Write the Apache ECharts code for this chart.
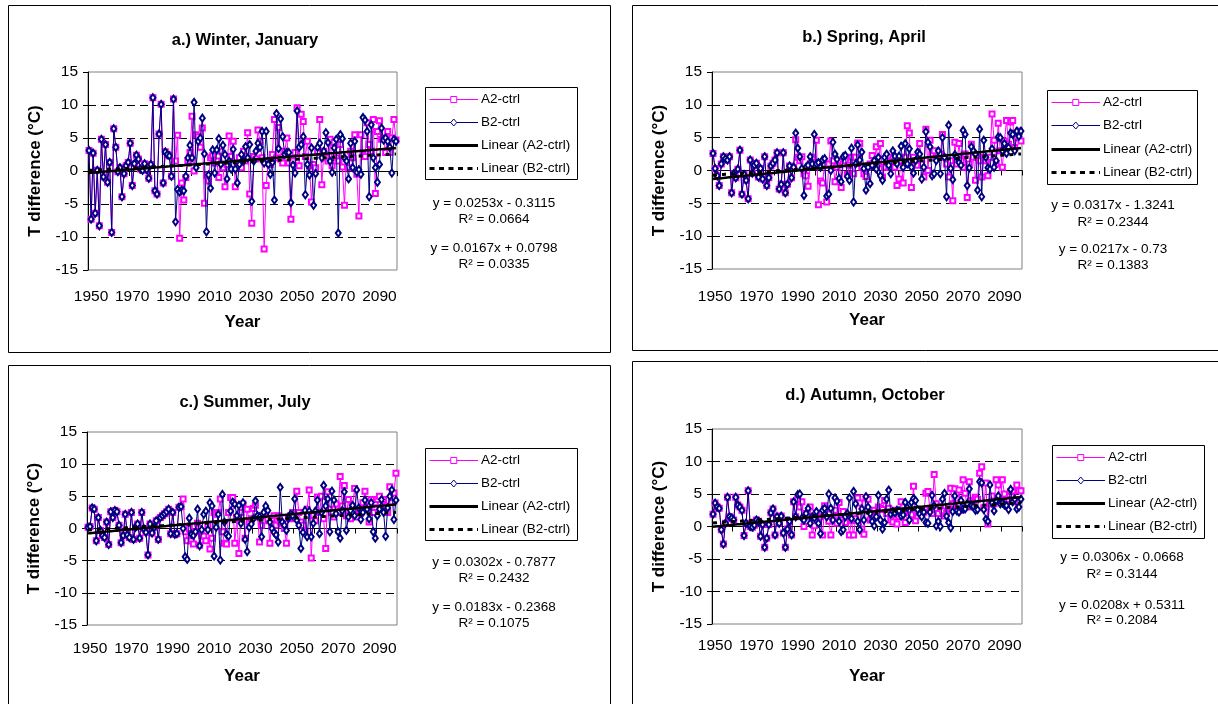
<!DOCTYPE html>
<html><head><meta charset="utf-8">
<script src="https://cdn.jsdelivr.net/npm/echarts@6/dist/echarts.min.js"></script>
<style>html,body{margin:0;padding:0;background:#fff}#c{width:1218px;height:704px}</style>
</head><body><div id="c"></div>
<script>
// Categories: years 1950..2099
const years = Array.from({length:150},(_,i)=>String(1950+i));
const yTickValues = [-15,-10,-5,0,5,10,15];
const seriesNames = ['A2-ctrl','B2-ctrl','Linear (A2-ctrl)','Linear (B2-ctrl)'];

// a.) Winter, January
const winterShared = [3.1,-7.3,2.7,-6.4,0.1,-8.3,4.8,-0.9,4.0,-1.7,
 1.3,-9.3,6.4,3.6,-0.1,0.5,-3.9,-0.4,0.8,1.3,
 4.2,-2.2,1.1,2.4,1.8,0.3,0.1,1.1,0.2,-1.1,
 1.0,11.1,-3.0,-3.5,5.6,10.1,-1.8,2.9,2.5,2.3,
 -0.8,10.9];
const winterB2 = [-7.7,-2.8,-3.2,-2.9,-3.0,-0.8,2.0,3.9,
 2.0,10.4,0.5,4.5,5.0,8.0,2.6,-9.2,-0.6,-2.6,
 3.2,-0.3,3.2,4.9,1.0,3.9,2.5,-1.2,1.5,0.3,
 3.3,0.3,-1.8,1.0,2.5,1.5,3.7,2.0,4.0,-4.6,
 1.5,3.0,4.2,3.6,6.0,1.2,6.0,1.0,-0.5,1.3,
 -4.4,8.7,3.4,7.9,5.2,2.5,2.8,2.8,-4.8,0.9,
 -0.3,9.1,3.6,4.0,5.2,-3.6,1.0,-0.6,3.5,-5.2,
 -0.4,3.6,4.2,2.0,3.0,5.8,4.3,1.5,-0.2,3.5,
 4.8,-9.4,5.5,4.9,2.0,1.5,-1.2,4.2,0.5,4.5,
 -0.2,0.2,-0.5,8.1,7.7,6.0,-3.9,7.0,2.0,0.5,
 -1.7,1.0,6.5,4.7,5.0,4.5,3.6,-0.3,4.8,4.5];
const winterA2 = [1.5,5.4,-10.2,-1.8,-4.4,-1.0,1.5,2.8,
 8.3,0.0,5.5,5.2,3.6,6.5,-4.9,-0.6,-1.5,2.0,
 2.3,1.2,1.5,-1.0,3.0,0.5,-2.4,1.0,5.3,2.2,
 4.5,-2.4,1.2,2.0,0.5,3.0,1.5,5.8,-3.5,-7.9,
 2.2,1.8,6.2,4.5,2.0,-11.8,-2.2,1.5,1.0,2.5,
 7.8,2.0,6.6,1.8,1.2,3.0,5.0,1.2,-7.3,1.5,
 2.8,9.6,0.8,8.6,7.5,2.2,4.5,0.8,-4.7,1.0,
 0.5,2.8,7.8,-2.1,3.0,2.0,1.5,4.8,0.8,4.3,
 2.0,1.5,4.0,0.6,-5.2,2.5,0.5,3.0,2.0,5.5,
 -0.5,-6.8,5.5,2.5,2.2,7.3,4.0,3.0,7.8,-3.4,
 6.0,7.6,4.8,5.0,2.8,6.0,2.8,5.0,7.8,4.7];

// b.) Spring, April
const springShared = [2.6,0.3,-0.8,-2.3,1.0,2.1,1.8,1.6,2.1,-3.4,
 -0.5,-1.1,0.2,3.1,-3.6,-0.6,-1.5,-4.3,1.6,-0.4,
 0.8,1.1,-1.0,0.3,-1.3,2.1,-2.3,-1.1,0.7,1.1,
 1.6,2.7,-2.8,-2.1,2.7,-3.4,-2.1,0.7,-1.1,0.5];
const springB2 = [5.7,3.4,2.1,0.3,-3.8,0.5,0.8,2.1,1.0,5.5,
 1.0,1.2,0.5,1.6,1.8,-3.9,-3.6,0.0,4.3,2.5,
 1.7,-1.2,-1.7,2.1,2.3,-0.9,-1.5,3.4,-4.8,1.0,
 3.9,1.6,2.8,0.3,-3.0,0.5,-2.0,0.8,1.5,0.2,
 2.0,-0.8,-1.5,2.0,2.5,0.8,-0.5,3.0,2.2,1.0,
 2.2,3.7,0.5,4.1,1.0,3.3,0.5,-0.4,1.5,2.8,
 2.5,-1.3,0.5,5.9,4.3,3.6,-0.8,-0.5,1.5,3.0,
 -0.5,5.0,2.0,-4.0,6.9,0.3,-1.4,2.4,2.0,1.2,
 0.8,6.1,5.5,-2.3,0.4,3.6,3.0,2.5,-3.0,6.3,
 -4.0,4.6,2.0,0.4,0.2,3.3,0.5,1.5,5.1,5.0,
 3.0,4.1,2.6,3.5,5.7,5.5,3.0,6.0,5.2,6.0];
const springA2 = [4.7,2.0,1.5,2.1,-0.5,-0.8,-2.4,1.0,2.0,0.8,
 4.6,-5.2,-1.6,-1.9,1.0,-4.8,1.0,4.5,1.5,-1.7,
 0.5,1.5,-2.6,1.0,1.5,-0.6,0.8,2.0,-0.5,2.0,
 4.2,4.1,0.5,-0.5,-0.9,0.5,1.0,2.3,0.8,3.6,
 1.0,4.1,-1.0,0.5,1.5,0.5,1.0,2.0,0.5,-2.3,
 -1.3,1.5,-1.9,2.0,6.8,5.7,-2.6,2.0,1.5,0.8,
 4.1,1.0,-1.0,6.3,0.0,4.6,2.5,3.0,2.0,2.0,
 2.5,5.5,2.0,1.0,-1.0,1.5,-4.6,4.3,1.0,4.1,
 1.5,0.5,2.5,-4.1,1.0,4.0,2.0,-1.5,2.0,1.5,
 -1.0,2.0,1.5,-0.8,2.0,8.6,4.6,1.0,7.2,3.0,
 0.5,4.5,7.6,4.0,7.4,7.6,3.5,5.0,6.0,4.5];

// c.) Summer, July
const summerShared = [0.2,0.3,3.2,3.0,-1.9,1.7,-0.3,-1.1,-1.4,1.0,
 -2.5,2.6,1.7,2.8,2.6,0.5,-2.2,-1.1,2.2,-1.0,
 -1.4,2.5,-1.7,0.2,0.7,-1.5,2.5,0.0,-0.6,-4.1,
 0.7,-0.7,0.2,1.2,-1.7,1.7,2.0,2.3,2.6,3.0,
 -0.8,2.5,-0.9,-0.8,3.3,3.4];
const summerB2 = [0.0,-4.4,-4.8,1.6,
 -0.9,-1.1,-0.5,3.0,-2.7,-0.2,2.2,2.7,-0.2,4.0,
 3.5,-4.3,0.2,2.2,-4.9,5.3,1.0,-0.9,-1.2,2.7,
 4.1,3.8,2.0,3.6,0.8,4.0,-1.7,-3.6,0.2,0.7,
 1.5,4.3,2.0,1.8,-1.3,2.5,3.5,2.8,1.0,0.0,
 -0.6,-1.0,-2.1,6.4,1.0,0.5,-0.3,1.6,2.2,2.0,
 4.6,1.3,0.5,-3.1,-0.6,2.8,-1.3,2.7,-1.3,0.8,
 2.7,4.4,-0.8,2.5,6.7,3.5,4.6,-0.5,5.8,4.4,
 2.3,-0.5,-1.5,2.8,5.7,-0.3,1.8,2.8,3.6,2.0,
 6.0,3.2,1.4,2.5,4.4,3.0,1.5,4.0,-0.5,-1.5,
 2.0,3.0,4.5,2.5,-1.2,3.2,5.0,6.0,1.4,4.4];
const summerA2 = [4.6,-0.5,-1.9,0.0,
 -1.9,-2.4,-0.5,0.8,-2.6,-1.0,-1.2,-1.9,0.5,-3.2,
 -1.5,2.5,2.2,2.5,4.6,-0.5,-2.3,-2.4,2.5,4.8,
 4.8,-2.3,1.5,-3.9,2.5,3.8,-1.5,3.0,1.0,1.5,
 3.1,3.6,1.8,-2.1,0.5,1.2,2.5,1.5,-2.3,1.5,
 2.0,0.5,2.0,1.0,0.8,0.0,-2.3,1.5,2.0,2.5,
 1.5,5.8,2.5,1.0,0.5,-0.5,3.0,6.0,-4.6,2.0,
 1.2,4.9,2.5,5.0,1.5,-3.1,5.7,3.0,2.5,1.8,
 3.8,2.5,8.1,3.5,6.7,2.0,4.5,1.5,3.5,6.2,
 1.8,3.0,2.5,4.0,5.8,4.2,1.0,4.5,2.5,4.0,
 4.5,5.0,3.0,4.5,3.5,2.5,6.5,4.0,5.5,8.6];

// d.) Autumn, October
const autumnShared = [1.9,3.6,3.0,2.8,-0.5,-2.7,0.5,4.5,1.5,1.3,
 1.0,4.5,3.3,3.0,2.5,-1.4,0.5,5.5,0.0,-0.1,
 0.2,1.0,0.8,-1.5,0.3,-3.2,-1.8,0.3,2.1,2.7,
 -1.3,1.5,0.5,1.6,-1.0,-3.2,-0.4,0.8,-1.3,3.8,
 1.5];
const autumnB2 = [4.9,5.0,1.3,1.0,2.0,2.8,0.5,1.5,1.3,
 2.3,0.5,-1.1,2.5,2.8,1.5,5.0,2.8,1.0,4.4,
 3.9,0.8,-0.8,-0.5,1.5,2.0,4.4,1.2,5.4,3.5,
 0.8,-0.5,2.7,1.0,4.6,3.0,2.0,0.8,0.1,1.5,
 4.8,1.0,-0.4,0.6,4.2,5.6,1.9,2.3,2.1,2.5,
 2.4,1.6,1.8,3.7,2.9,1.0,3.7,4.3,4.0,2.6,
 1.9,1.5,2.2,0.6,0.5,2.2,4.8,3.2,0.1,0.8,
 0.0,4.2,5.1,1.6,0.6,-0.2,2.3,4.7,2.4,2.2,
 4.0,2.7,2.7,3.5,5.8,3.2,3.1,2.5,2.6,6.9,
 6.7,2.6,1.1,0.8,6.4,3.6,2.4,4.0,4.7,3.5,
 3.6,3.3,3.2,2.6,5.7,3.8,4.2,2.7,3.0,4.2];
const autumnA2 = [4.2,3.0,3.8,0.0,2.0,1.5,3.0,-1.3,0.1,
 2.0,1.0,1.5,-1.3,3.2,2.7,0.8,-1.3,1.0,2.5,
 0.5,3.7,1.0,2.3,0.6,1.5,-1.3,0.9,-1.3,1.2,
 4.4,3.6,-0.4,-1.2,4.4,4.2,1.0,1.3,2.5,1.5,
 3.0,2.8,2.6,4.0,2.0,2.8,1.0,0.7,2.5,0.4,
 1.5,3.8,2.0,0.6,2.1,2.4,1.8,6.2,0.9,1.6,
 2.1,2.0,2.2,5.1,5.4,2.5,2.0,8.0,3.5,2.0,
 3.0,2.4,1.6,2.0,3.0,5.9,3.5,5.8,2.5,5.6,
 2.5,7.2,5.1,3.0,6.9,4.0,3.8,4.5,4.2,8.2,
 9.2,2.9,6.7,0.4,3.5,4.7,3.5,7.2,6.4,4.0,
 7.2,5.0,4.0,4.2,5.4,5.5,3.8,6.4,5.5,5.5];

// Trendline coefficients printed on the chart [slope, intercept]
const trendCoefA = [[0.0253,-0.3115],[0.0317,-1.3241],[0.0302,-0.7877],[0.0306,-0.0668]];
const trendCoefB = [[0.0167,0.0798],[0.0217,-0.73],[0.0183,-0.2368],[0.0208,0.5311]];
const panelTitles = ['a.) Winter, January','b.) Spring, April','c.) Summer, July','d.) Autumn, October'];
const eqTexts = [
 ['y = 0.0253x - 0.3115','R\u00b2 = 0.0664','y = 0.0167x + 0.0798','R\u00b2 = 0.0335'],
 ['y = 0.0317x - 1.3241','R\u00b2 = 0.2344','y = 0.0217x - 0.73','R\u00b2 = 0.1383'],
 ['y = 0.0302x - 0.7877','R\u00b2 = 0.2432','y = 0.0183x - 0.2368','R\u00b2 = 0.1075'],
 ['y = 0.0306x - 0.0668','R\u00b2 = 0.3144','y = 0.0208x + 0.5311','R\u00b2 = 0.2084']
];
const dataA = [winterShared.concat(winterA2), springShared.concat(springA2), summerShared.concat(summerA2), autumnShared.concat(autumnA2)];
const dataB = [winterShared.concat(winterB2), springShared.concat(springB2), summerShared.concat(summerB2), autumnShared.concat(autumnB2)];

// Layout (positions, not data)
const layout = [
 {grid:{left:88,top:72,width:309,height:198}, box:[8.5,5.5,602,347], title:[245,40], legend:[425,87,152,92], eqX:494, eqY:[203,219,248,264], xMargin:19, xGap:44, yGap:44},
 {grid:{left:712,top:72,width:310,height:197}, box:[632.5,5.5,600,345], title:[864,37], legend:[1047,90,150,94], eqX:1113, eqY:[205,222,249,265], xMargin:20, xGap:43, yGap:44},
 {grid:{left:87,top:432,width:310,height:193}, box:[8.5,365.5,602,350], title:[245,402], legend:[425,448,152,92], eqX:494, eqY:[562,578,607,623], xMargin:16, xGap:43, yGap:44},
 {grid:{left:712,top:429,width:310,height:195}, box:[632.5,361.5,600,350], title:[865,395], legend:[1052,445,152,93], eqX:1122, eqY:[557,574,605,620], xMargin:14, xGap:44, yGap:44}
];
const FONT = "'Liberation Sans', Arial, sans-serif";
const trend = c => years.map((_,i)=> +(c[0]*(i+1)+c[1]).toFixed(4));

const grids=[], xAxes=[], yAxes=[], series=[], graphics=[];
function legendGraphics(L){
  const [lx,ly,lw,lh] = L.legend;
  const out = [];
  out.push({type:'rect', z:50, shape:{x:lx+0.5,y:ly+0.5,width:lw,height:lh}, style:{fill:'#fff',stroke:'#000',lineWidth:1}});
  const step = lh/4;
  const x0 = lx+4.5, x1 = lx+53, xm = (x0+x1)/2;
  const styles = [
    {stroke:'#FF00FF', lineWidth:1, marker:'rect'},
    {stroke:'#000080', lineWidth:1, marker:'diamond'},
    {stroke:'#000', lineWidth:3},
    {stroke:'#000', lineWidth:3, lineDash:[5,4.5]}
  ];
  seriesNames.forEach((nm,k)=>{
    const y = Math.round(ly + step*(k+0.5)) + 0.5;
    const st = styles[k];
    out.push({type:'line', z:51, shape:{x1:x0,y1:y,x2:x1,y2:y}, style:{stroke:st.stroke, lineWidth:st.lineWidth, lineDash:st.lineDash||null}});
    if (st.marker==='rect') out.push({type:'rect', z:52, shape:{x:xm-3,y:y-3,width:6,height:6}, style:{fill:'#fff',stroke:st.stroke,lineWidth:1}});
    if (st.marker==='diamond') out.push({type:'polygon', z:52, shape:{points:[[xm,y-3.5],[xm+3,y],[xm,y+3.5],[xm-3,y]]}, style:{fill:'#fff',stroke:st.stroke,lineWidth:1}});
    out.push({type:'text', z:52, x:lx+56, y:y, style:{text:nm, font:"13.5px "+FONT, fill:'#000', align:'left', verticalAlign:'middle', textAlign:'left', textVerticalAlign:'middle'}});
  });
  return out;
}
layout.forEach((L,i)=>{
  grids.push(Object.assign({show:true, borderColor:'#808080', borderWidth:1, backgroundColor:'#fff'}, L.grid));
  xAxes.push({type:'category', gridIndex:i, data:years, boundaryGap:true,
    axisLine:{lineStyle:{color:'#000',width:1}},
    axisTick:{show:true, interval:9, length:5, lineStyle:{color:'#000'}},
    axisLabel:{interval:19, color:'#000', fontSize:15.5, margin:L.xMargin, fontFamily:FONT, padding:[0,0,0,4]},
    splitLine:{show:false},
    name:'Year', nameLocation:'middle', nameGap:L.xGap,
    nameTextStyle:{fontWeight:'bold', fontSize:17, color:'#000', fontFamily:FONT}});
  yAxes.push({type:'value', gridIndex:i, min:yTickValues[0], max:yTickValues[yTickValues.length-1], interval:5,
    axisLine:{show:true, lineStyle:{color:'#000',width:1}},
    axisTick:{show:true, length:5, lineStyle:{color:'#000'}},
    axisLabel:{color:'#000', fontSize:15.5, margin:10, fontFamily:FONT},
    splitLine:{show:true, showMinLine:false, showMaxLine:false, lineStyle:{type:[8,5], color:'#000', width:1}},
    name:'T difference (\u00b0C)', nameLocation:'middle', nameGap:L.yGap,
    nameTextStyle:{fontWeight:'bold', fontSize:17, color:'#000', fontFamily:FONT}});
  series.push({type:'line', name:seriesNames[0], xAxisIndex:i, yAxisIndex:i, data:dataA[i],
    symbol:'emptyRect', symbolSize:5, showAllSymbol:true, z:2,
    lineStyle:{color:'#FF00FF', width:1}, itemStyle:{color:'#FF00FF', borderWidth:1}});
  series.push({type:'line', name:seriesNames[1], xAxisIndex:i, yAxisIndex:i, data:dataB[i],
    symbol:'emptyDiamond', symbolSize:[5,7], showAllSymbol:true, z:3,
    lineStyle:{color:'#000080', width:1}, itemStyle:{color:'#000080', borderWidth:1}});
  series.push({type:'line', name:seriesNames[2], xAxisIndex:i, yAxisIndex:i, data:trend(trendCoefA[i]),
    symbol:'none', z:5, lineStyle:{color:'#000', width:2.5}, itemStyle:{color:'#000'}});
  series.push({type:'line', name:seriesNames[3], xAxisIndex:i, yAxisIndex:i, data:trend(trendCoefB[i]),
    symbol:'none', z:4, lineStyle:{color:'#000', width:3, type:[4,5]}, itemStyle:{color:'#000'}});
  graphics.push({type:'rect', z:-10, shape:{x:L.box[0], y:L.box[1], width:L.box[2], height:L.box[3]},
    style:{fill:'none', stroke:'#000', lineWidth:1}});
  graphics.push({type:'text', x:L.title[0], y:L.title[1], style:{text:panelTitles[i], font:"bold 16.5px "+FONT,
    fill:'#000', align:'center', verticalAlign:'middle', textAlign:'center', textVerticalAlign:'middle'}});
  eqTexts[i].forEach((t,k)=>{
    graphics.push({type:'text', x:L.eqX, y:L.eqY[k], style:{text:t, font:"13.5px "+FONT, fill:'#000',
      align:'center', verticalAlign:'middle', textAlign:'center', textVerticalAlign:'middle'}});
  });
  legendGraphics(L).forEach(g=>graphics.push(g));
});

const chart = echarts.init(document.getElementById('c'), null, {renderer:'canvas'});
chart.setOption({
  animation:false, backgroundColor:'#fff',
  textStyle:{fontFamily:FONT},
  grid:grids, xAxis:xAxes, yAxis:yAxes, series:series, graphic:graphics
});
</script></body></html>
